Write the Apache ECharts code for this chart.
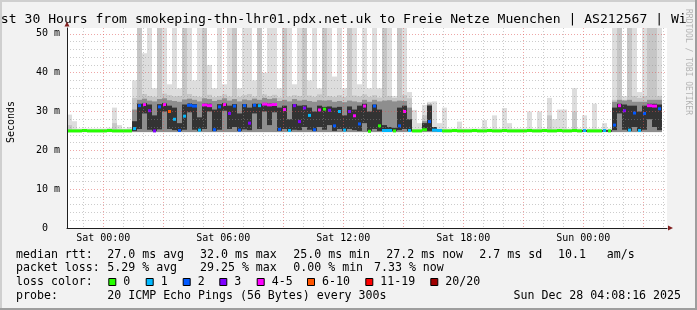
<!DOCTYPE html>
<html><head><meta charset="utf-8">
<script src="https://cdn.jsdelivr.net/npm/echarts@6/dist/echarts.min.js"></script>
<style>html,body{margin:0;padding:0;background:#f2f2f2}#c{width:697px;height:310px}</style>
</head><body><div id="c"></div>
<script>
// ---- axis ranges (hours relative to Sat 00:00) ----
const T_START = -1.815, T_END = 28.185, STEP = 0.25, Y_MAX = 51.5;
const xLabelHours = [0, 6, 12, 18, 24];
const xLabels = ['Sat 00:00', 'Sat 06:00', 'Sat 12:00', 'Sat 18:00', 'Sun 00:00'];
const xMajorHours = [0, 3, 6, 9, 12, 15, 18, 21, 24, 27];
const xMinorHours = [-1, 1, 2, 4, 5, 7, 8, 10, 11, 13, 14, 16, 17, 19, 20, 22, 23, 25, 26, 28];
const yMajorTicks = [0, 10, 20, 30, 40, 50];
const yLabels = ['0  ', '10 m', '20 m', '30 m', '40 m', '50 m'];
const yMinorTicks = [2, 4, 6, 8, 12, 14, 16, 18, 22, 24, 26, 28, 32, 34, 36, 38, 42, 44, 46, 48];

// ---- data: one column per 15 minutes (ms) ----
const median = [
 25.0,25.0,25.0,25.1,25.0,25.0,25.0,25.0,25.1,25.0,
 25.0,25.0,25.0,25.6,31.5,31.8,30.2,25.0,31.2,31.8,
 30.0,28.0,25.1,28.8,31.6,31.4,25.2,31.7,31.5,25.3,
 31.2,31.8,29.5,31.4,25.2,31.5,27.0,31.6,31.5,31.9,
 31.7,31.8,25.4,30.5,25.1,31.5,27.4,30.9,29.0,25.3,
 30.4,30.6,30.3,26.3,30.0,25.2,30.0,28.9,26.8,31.4,
 24.9,31.4,26.3,25.1,25.1,25.0,26.3,30.0,25.1,25.0,
 25.0,25.3,27.4,25.2,25.1,25.0,25.0,25.1,25.0,25.0,
 25.0,25.1,25.0,25.0,25.1,25.0,25.0,25.1,25.0,25.0,
 25.0,25.0,25.1,25.0,25.0,25.1,25.0,25.0,25.1,25.0,
 25.0,25.1,25.0,25.1,25.0,25.0,25.0,25.1,25.0,26.5,
 31.5,30.2,25.2,29.6,25.1,29.5,31.5,31.4,30.7,null];
const lost = [
 0,0,0,0,0,0,0,0,0,0,
 0,0,0,1,2,5,3,3,2,5,
 10,1,2,1,2,2,1,5,4,2,
 2,5,3,2,2,2,3,2,1,5,
 5,4,2,5,1,3,3,3,1,2,
 5,0,3,2,1,1,3,5,2,5,
 0,2,0,1,1,0,2,5,1,0,
 0,0,2,1,1,0,0,0,0,0,
 0,0,0,0,0,0,0,0,0,0,
 0,0,0,0,0,0,0,0,0,0,
 0,0,0,1,0,0,0,1,0,2,
 5,3,1,2,1,2,5,5,2,null];
const smokeLo = [
 24.7,24.7,24.7,24.7,24.7,24.7,24.7,24.7,24.7,24.7,
 24.7,24.7,24.7,24.7,24.7,24.7,24.7,24.7,24.7,24.7,
 24.7,24.7,24.7,24.7,24.7,24.7,24.7,24.7,24.7,24.7,
 24.7,24.7,24.7,24.7,24.7,24.7,24.7,24.7,24.7,24.7,
 24.7,24.7,24.7,24.7,24.7,24.7,24.7,24.7,24.7,24.7,
 24.7,24.7,24.7,24.7,24.7,24.7,24.7,24.7,24.7,24.7,
 24.7,24.7,24.7,24.7,24.7,24.7,24.7,24.7,24.7,24.7,
 24.7,24.7,24.7,24.7,24.7,24.7,24.7,24.7,24.7,24.7,
 24.7,24.7,24.7,24.7,24.7,24.7,24.7,24.7,24.7,24.7,
 24.7,24.7,24.7,24.7,24.7,24.7,24.7,24.7,24.7,24.7,
 24.7,24.7,24.7,24.7,24.7,24.7,24.7,24.7,24.7,24.7,
 24.7,24.7,24.7,24.7,24.7,24.7,24.7,24.7,24.7,null];
const smokeHi = [
 29.2,27.5,25.6,25.6,25.6,25.6,25.6,25.6,25.8,31.0,
 26.5,25.6,26.0,38,60,45,60,36,60,60,
 37,60,36,60,60,38,60,60,42,36,
 60,37,60,60,36,60,60,38,60,40,
 60,60,36,60,60,37,60,60,38,60,
 36,60,60,39,60,36,60,60,37,60,
 36,60,36,60,60,34,60,60,35,30.4,
 27.0,31.7,32.5,32.6,27.0,31.0,25.6,25.6,27.4,25.6,
 25.6,25.6,25.6,27.8,25.6,29.0,25.6,30.9,27.0,25.6,
 25.6,25.6,30.0,25.6,30.0,25.6,33.5,28.0,30.5,30.5,
 25.6,36.0,25.6,29.0,25.6,32.0,25.6,27.0,25.6,60,
 60,34,60,60,35,60,60,60,60,null];
const smokeHi2 = [
 26.5,25.4,25.4,25.4,25.4,25.4,25.4,25.4,25.4,27.0,
 25.4,25.4,25.4,33.5,60,34.5,34.0,33.8,60,34.6,
 34.2,33.9,34.0,60,34.5,34.0,33.8,60,34.3,33.7,
 34.0,34.4,33.9,60,33.8,34.2,34.5,33.9,60,34.4,
 34.0,34.3,33.6,60,33.9,34.2,34.0,60,34.1,33.8,
 34.4,60,34.0,33.8,34.2,33.7,60,34.1,33.9,34.4,
 33.8,34.2,33.6,60,34.0,33.5,60,34.2,33.4,25.4,
 25.4,29.0,32.0,25.8,25.4,25.4,25.4,25.4,25.4,25.4,
 25.4,25.4,25.4,25.4,25.4,25.4,25.4,25.4,25.4,25.4,
 25.4,25.4,25.4,25.4,25.4,25.4,29.0,25.4,25.4,25.4,
 25.4,30.0,25.4,25.4,25.4,25.4,25.4,25.4,25.4,33.0,
 60,33.0,60,34.0,33.5,34.0,60,60,34.0,null];
const smokeMid = [
 25.2,25.2,25.2,25.2,25.2,25.2,25.2,25.2,25.2,25.2,
 25.2,25.2,25.2,30.5,33.0,33.3,32.8,32.6,33.2,33.4,
 32.9,32.7,32.5,33.1,33.3,33.0,32.6,33.4,33.2,32.7,
 33.0,33.4,32.8,33.2,32.6,33.1,32.9,33.3,33.0,33.5,
 33.2,33.4,32.7,33.0,32.6,33.2,32.8,33.0,32.7,32.5,
 32.9,32.8,32.9,32.5,32.7,32.4,32.8,32.6,32.4,33.0,
 32.5,33.0,32.6,32.8,32.9,32.6,32.8,32.7,31.0,25.2,
 25.2,27.5,31.8,25.2,25.2,25.2,25.2,25.2,25.2,25.2,
 25.2,25.2,25.2,25.2,25.2,25.2,25.2,25.2,25.2,25.2,
 25.2,25.2,25.2,25.2,25.2,25.2,25.2,25.2,25.2,25.2,
 25.2,25.2,25.2,25.2,25.2,25.2,25.2,25.2,25.2,32.5,
 33.0,32.8,33.0,32.5,32.5,32.5,33.0,33.0,33.0,null];
const coreLo = [
 24.8,24.8,24.8,24.8,24.8,24.8,24.8,24.8,24.8,24.8,
 24.8,24.8,24.8,25.0,25.5,29.5,25.3,25.0,25.4,30.0,
 25.5,25.2,25.0,25.3,29.8,25.3,25.0,25.5,30.0,25.0,
 25.3,30.2,25.5,26.0,25.0,25.4,25.2,29.5,25.5,30.0,
 26.5,29.8,25.0,25.5,25.0,25.3,25.2,26.0,25.3,25.0,
 26.0,25.3,26.5,25.0,25.5,25.0,25.5,25.2,25.0,27.0,
 25.0,25.5,25.0,25.0,25.0,25.0,25.2,25.5,25.0,24.8,
 24.8,25.0,25.0,25.0,24.8,24.8,24.8,24.8,24.8,24.8,
 24.8,24.8,24.8,24.8,24.8,24.8,24.8,24.8,24.8,24.8,
 24.8,24.8,24.8,24.8,24.8,24.8,24.8,24.8,24.8,24.8,
 24.8,24.8,24.8,24.8,24.8,24.8,24.8,24.8,24.8,25.2,
 29.5,25.3,25.0,26.0,25.0,25.3,28.0,26.0,25.2,null];
const coreHi = [
 25.2,25.2,25.2,25.2,25.2,25.2,25.2,25.2,25.2,25.2,
 25.2,25.2,25.2,27.5,32.0,32.2,31.8,29.0,31.9,32.2,
 31.5,31.0,27.0,31.8,32.1,31.9,28.5,32.1,32.0,30.5,
 31.9,32.2,31.5,31.9,29.5,31.9,31.0,32.0,32.0,32.2,
 32.1,32.2,31.0,31.5,28.0,31.9,31.5,31.6,31.0,30.0,
 31.5,31.2,31.3,31.0,31.2,29.0,31.3,30.5,31.5,32.0,
 30.0,31.8,30.5,26.5,26.0,25.8,31.0,31.5,28.0,25.2,
 25.2,27.0,31.5,26.0,25.2,25.2,25.2,25.2,25.2,25.2,
 25.2,25.2,25.2,25.2,25.2,25.2,25.2,25.2,25.2,25.2,
 25.2,25.2,25.2,25.2,25.2,25.2,25.2,25.2,25.2,25.2,
 25.2,25.2,25.2,25.2,25.2,25.2,25.2,25.2,25.2,31.0,
 32.0,31.8,31.5,31.5,30.0,31.5,32.0,32.0,31.8,null];

// ---- legend / text ----
const TITLE = 'Last 30 Hours from smokeping-thn-lhr01.pdx.net.uk to Freie Netze Muenchen | AS212567 | Wi';
const statsRtt = ['median rtt:', '27.0 ms avg', '32.0 ms max', '25.0 ms min', '27.2 ms now', '2.7 ms sd', '10.1   am/s'];
const statsLoss = ['packet loss:', '5.29 % avg', '29.25 % max', '0.00 % min', '7.33 % now'];
const lossNames = ['0', '1', '2', '3', '4-5', '6-10', '11-19', '20/20'];
const lossUpper = [0, 1, 2, 3, 5, 10, 19, 20];
const lossColors = ['#26ff00', '#00b8ff', '#0059ff', '#7e00ff', '#ff00ff', '#ff5500', '#ff0000', '#a00000'];
const probeText = ['probe:', '20 ICMP Echo Pings (56 Bytes) every 300s', 'Sun Dec 28 04:08:16 2025'];

// ---- layout ----
const MONO = '"DejaVu Sans Mono"';
const rttX = [16, 107.3, 200, 293.3, 386.3, 479.3, 558];
const lossX = [16, 107.3, 200, 293.3, 374];
const boxX = [108.3, 145.7, 182.7, 219.3, 256.7, 307, 365.3, 430.3];
const lineY = [254.5, 268.2, 281.9, 295.6];
const SMOKE = ['#dddddd', '#c6c6c6', '#8e8e8e', '#333333'];

function lossClass(n) { for (let k = 0; k < lossUpper.length; k++) if (n <= lossUpper[k]) return k; return 7; }

const times = median.map((_, i) => T_START + i * STEP);
const smokeData = times.map((t, i) => [t, smokeLo[i], smokeHi[i], smokeHi2[i], smokeMid[i], coreLo[i], coreHi[i]]);
const medData = times.map((t, i) => [t, median[i], lost[i]]);

function smokeItem(params, api) {
  const lo = api.value(1);
  if (lo === null || isNaN(lo)) return;
  const t = api.value(0);
  const xa = api.coord([t, 0])[0], xb = api.coord([t + STEP, 0])[0];
  const band = (l, hi, c) => {
    const y1 = api.coord([t, Math.min(hi, Y_MAX)])[1];
    const y0 = api.coord([t, l])[1];
    return { type: 'rect', shape: { x: xa, y: y1, width: xb - xa, height: y0 - y1 }, style: { fill: c } };
  };
  return { type: 'group', children: [
    band(lo, api.value(2), SMOKE[0]),
    band(lo, api.value(3), SMOKE[1]),
    band(lo, api.value(4), SMOKE[2]),
    band(api.value(5), api.value(6), SMOKE[3])
  ] };
}
function medItem(params, api) {
  const v = api.value(1);
  if (v === null || isNaN(v)) return;
  const i = params.dataIndex, t = api.value(0), cls = lossClass(api.value(2));
  const p = api.coord([t, v]);
  const xb = api.coord([t + STEP, v])[0];
  // a run of same loss class at similar level reads as a line, isolated values as dots
  const same = j => j >= 0 && j < median.length && median[j] !== null && lossClass(lost[j]) === cls && Math.abs(median[j] - v) < 0.5;
  let x0 = p[0], w = xb - p[0];
  if (!same(i - 1) && !same(i + 1)) { x0 = p[0] + 1; w = 3; }
  return { type: 'rect', shape: { x: x0, y: p[1] - 1.5, width: w, height: 3 }, style: { fill: lossColors[cls] } };
}

const txt = (x, y, s, size, extra) => Object.assign({ type: 'text', x: x, y: y, silent: true,
  style: Object.assign({ text: s, fill: '#000', font: size + 'px ' + MONO, textVerticalAlign: 'middle', verticalAlign: 'middle' }, extra || {}) });

const graphics = [];
graphics.push({ type: 'rect', shape: { x: 0, y: 0, width: 697, height: 2 }, style: { fill: '#cfcfcf' }, silent: true });
graphics.push({ type: 'rect', shape: { x: 0, y: 0, width: 2, height: 310 }, style: { fill: '#cfcfcf' }, silent: true });
graphics.push({ type: 'rect', shape: { x: 0, y: 308, width: 697, height: 2 }, style: { fill: '#9e9e9e' }, silent: true });
graphics.push({ type: 'rect', shape: { x: 695, y: 0, width: 2, height: 310 }, style: { fill: '#9e9e9e' }, silent: true });
graphics.push(Object.assign(txt(688, 62, 'RRDTOOL / TOBI OETIKER', 8, { fill: '#b4b4b4', textAlign: 'center', align: 'center' }), { rotation: -Math.PI / 2 }));
graphics.push(txt(-14.9, 19.5, TITLE, 13.1));
graphics.push(Object.assign(txt(11, 122, 'Seconds', 10, { textAlign: 'center', align: 'center' }), { rotation: Math.PI / 2 }));
graphics.push({ type: 'polygon', shape: { points: [[64.5, 26.5], [69.5, 26.5], [67, 21.5]] }, style: { fill: '#801f1f' }, silent: true });
graphics.push({ type: 'polygon', shape: { points: [[668, 225.5], [668, 230.5], [673, 228]] }, style: { fill: '#801f1f' }, silent: true });
statsRtt.forEach((s, k) => graphics.push(txt(rttX[k], lineY[0], s, 11.6)));
statsLoss.forEach((s, k) => graphics.push(txt(lossX[k], lineY[1], s, 11.6)));
graphics.push(txt(16, lineY[2], 'loss color:', 11.6));
lossNames.forEach((s, k) => {
  graphics.push({ type: 'rect', shape: { x: boxX[k] + 0.5, y: 278.5, width: 7, height: 7 }, style: { fill: lossColors[k], stroke: '#000', lineWidth: 1 }, silent: true });
  graphics.push(txt(boxX[k] + 15, lineY[2], s, 11.6));
});
graphics.push(txt(16, lineY[3], probeText[0], 11.6));
graphics.push(txt(107.3, lineY[3], probeText[1], 11.6));
graphics.push(txt(681, lineY[3], probeText[2], 11.6, { textAlign: 'right', align: 'right' }));

const gridMinor = { color: 'rgba(143,143,143,0.45)', type: [1, 2], width: 1 };
const gridMajor = { color: 'rgba(222,79,79,0.5)', type: [1, 2], width: 1 };

const chart = echarts.init(document.getElementById('c'), null, { renderer: 'canvas' });
chart.setOption({
  animation: false,
  backgroundColor: '#f2f2f2',
  grid: { left: 67, top: 28, width: 600, height: 200, show: true, backgroundColor: '#fff', borderWidth: 0 },
  xAxis: [
    { type: 'value', min: T_START, max: T_END, position: 'bottom', z: 3,
      axisLine: { show: true, onZero: false, lineStyle: { color: '#1f1f1f', width: 1 } },
      axisTick: { show: false, customValues: xMinorHours },
      splitLine: { show: true, lineStyle: gridMinor },
      axisLabel: { show: true, customValues: xLabelHours, formatter: v => xLabels[xLabelHours.indexOf(v)],
        fontFamily: 'DejaVu Sans Mono', fontSize: 10, color: '#000', margin: 5 } },
    { type: 'value', min: T_START, max: T_END, position: 'bottom', z: 3,
      axisLine: { show: false }, axisTick: { show: false, customValues: xMajorHours },
      splitLine: { show: true, lineStyle: gridMajor }, axisLabel: { show: false } }
  ],
  yAxis: [
    { type: 'value', min: 0, max: Y_MAX, position: 'left', z: 3,
      axisLine: { show: true, onZero: false, lineStyle: { color: '#1f1f1f', width: 1 } },
      axisTick: { show: false, customValues: yMajorTicks },
      splitLine: { show: true, lineStyle: gridMajor },
      axisLabel: { show: true, customValues: yMajorTicks, formatter: v => yLabels[yMajorTicks.indexOf(v)],
        fontFamily: 'DejaVu Sans Mono', fontSize: 10, color: '#000', margin: 7, padding: [4, 0, 0, 0] } },
    { type: 'value', min: 0, max: Y_MAX, position: 'left', z: 3,
      axisLine: { show: false }, axisTick: { show: false, customValues: yMinorTicks },
      splitLine: { show: true, lineStyle: gridMinor }, axisLabel: { show: false } }
  ],
  series: [
    { type: 'custom', name: 'smoke', xAxisIndex: 0, yAxisIndex: 0, renderItem: smokeItem, data: smokeData,
      encode: { x: 0, y: [1, 2, 3, 4, 5, 6] }, silent: true, z: 1 },
    { type: 'custom', name: 'median', xAxisIndex: 0, yAxisIndex: 0, renderItem: medItem, data: medData,
      encode: { x: 0, y: 1 }, silent: true, z: 2 }
  ],
  graphic: graphics
});
</script>
</body></html>
